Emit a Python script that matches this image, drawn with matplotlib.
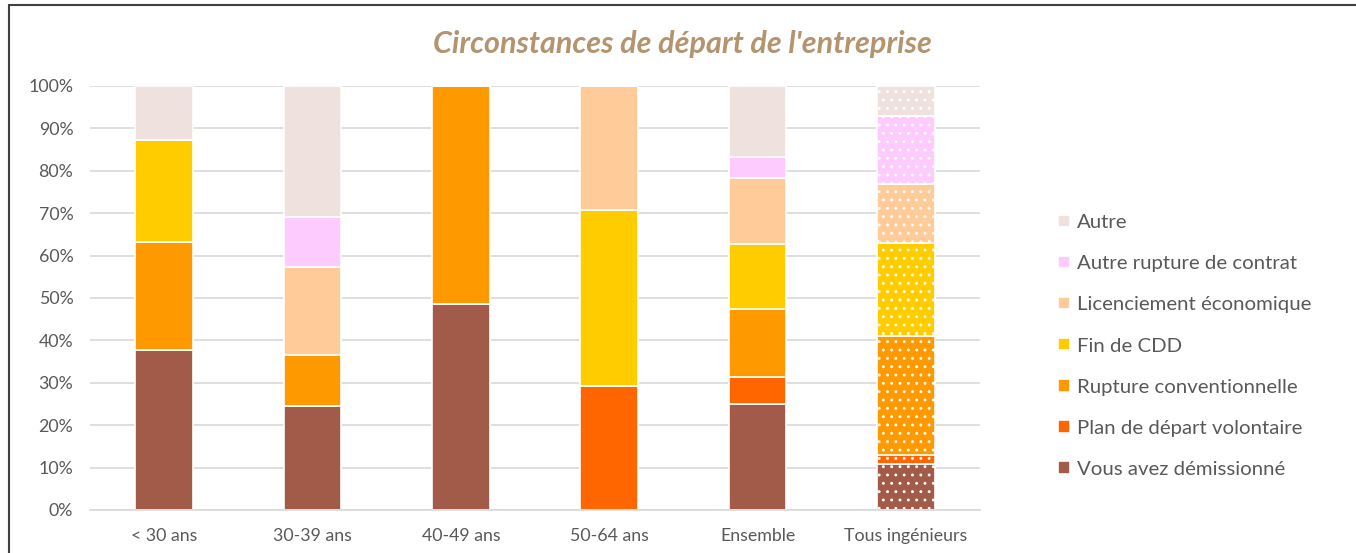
import numpy as np
import matplotlib.pyplot as plt
from matplotlib.patches import Rectangle

plt.rcParams['font.family'] = ['Lato', 'DejaVu Sans']
plt.rcParams['hatch.linewidth'] = 0.9

# Data (percent)
categories = ['< 30 ans', '30-39 ans', '40-49 ans', '50-64 ans', 'Ensemble', 'Tous ingénieurs']
series = ['Vous avez démissionné', 'Plan de départ volontaire', 'Rupture conventionnelle',
          'Fin de CDD', 'Licenciement économique', 'Autre rupture de contrat', 'Autre']
demission = [37.7, 24.6, 48.7, 0.0, 25.0, 10.8]
plan_depart = [0.0, 0.0, 0.0, 29.2, 6.4, 2.2]
rupture_conv = [25.4, 11.9, 51.3, 0.0, 16.1, 28.0]
fin_cdd = [24.2, 0.0, 0.0, 41.5, 15.3, 22.0]
licenciement = [0.0, 20.7, 0.0, 29.3, 15.4, 14.0]
autre_rupture = [0.0, 11.9, 0.0, 0.0, 5.1, 16.0]
autre = [12.7, 30.9, 0.0, 0.0, 16.7, 7.0]
values = [demission, plan_depart, rupture_conv, fin_cdd, licenciement, autre_rupture, autre]
colors = ['#A25B48', '#FF6600', '#FF9900', '#FFCC00', '#FFCB99', '#FDCBFD', '#EFE2DE']

fig = plt.figure(figsize=(13.56, 5.53), dpi=100)
ax = fig.add_axes([90/1356, 43/553, 890/1356, 424/553])

x = np.arange(len(categories))
bottom = np.zeros(len(categories))
handles = []
for vals, col, name in zip(values, colors, series):
    vals = np.array(vals)
    bars = ax.bar(x[:-1], vals[:-1], width=0.39, bottom=bottom[:-1], color=col,
                  edgecolor='white', linewidth=1.2, label=name, zorder=2)
    # last bar is dotted
    ax.bar(x[-1:], vals[-1:], width=0.39, bottom=bottom[-1:], color=col,
           edgecolor='white', linewidth=1.2, hatch='..', zorder=2)
    handles.append(bars)
    bottom += vals

ax.set_xlim(-0.5, len(categories) - 0.5)
ax.set_ylim(0, 100)
ax.set_yticks(np.arange(0, 101, 10))
ax.set_yticklabels([f'{v}%' for v in range(0, 101, 10)])
ax.set_xticks(x)
ax.set_xticklabels(categories)
ax.tick_params(axis='both', length=0, labelsize=12.8, labelcolor='#595959')
ax.tick_params(axis='y', pad=12)
ax.tick_params(axis='x', pad=13)
ax.grid(axis='y', color='#D9D9D9', linewidth=1.2)
ax.set_axisbelow(True)
for s in ['top', 'right', 'left']:
    ax.spines[s].set_visible(False)
ax.spines['bottom'].set_color('#D9D9D9')
ax.spines['bottom'].set_linewidth(1.2)

fig.text(682/1356, 1 - 44/553, "Circonstances de départ de l'entreprise", ha='center', va='center',
         fontsize=22, fontweight='bold', fontstyle='italic', color='#B3946E')

leg = fig.legend(handles[::-1], series[::-1], loc='center left', bbox_to_anchor=(1040/1356, 1 - 346/553),
                 frameon=False, fontsize=14.7, handlelength=0.55, handleheight=0.55,
                 handletextpad=0.35, labelspacing=1.18, labelcolor='#595959')

# outer frame of the chart
fig.patches.append(Rectangle((9/1356, -0.05), 1.1, 1 - 5/553 + 0.05, transform=fig.transFigure,
                             fill=False, edgecolor='#404040', linewidth=1.5))

fig.savefig('out.png', dpi=100)
